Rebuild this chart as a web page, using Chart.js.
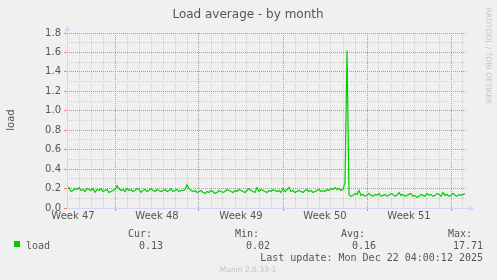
<!DOCTYPE html>
<html>
<head>
<meta charset="utf-8">
<script src="https://cdn.jsdelivr.net/npm/chart.js@4/dist/chart.umd.min.js"></script>
<style>
  html, body { margin: 0; padding: 0; background: #f0f0f0; }
  canvas { display: block; }
</style>
</head>
<body>
<canvas id="chart" width="497" height="280"></canvas>
<script>
// load samples, one every 4 hours, starting at the left edge of the graph
var load = [
  0.19,0.21,0.17,0.18,0.20,0.19,0.21,0.18,0.19,0.17,0.20,0.19,0.18,0.20,0.16,0.19,0.18,0.20,0.17,0.18,0.19,0.16,0.17,0.18,
  0.19,0.23,0.20,0.18,0.19,0.17,0.20,0.18,0.19,0.17,0.18,0.20,0.19,0.16,0.18,0.19,0.17,0.18,
  0.20,0.18,0.17,0.19,0.18,0.17,0.18,0.19,0.17,0.18,0.20,0.17,0.18,0.19,0.17,0.18,0.18,0.19,0.24,0.20,0.18,0.17,0.18,0.16,
  0.17,0.18,0.16,0.15,0.17,0.16,0.18,0.17,0.15,0.16,0.18,0.17,0.16,0.17,0.19,0.18,0.17,0.16,0.18,0.17,
  0.19,0.18,0.17,0.16,0.18,0.20,0.18,0.17,0.16,0.21,0.17,0.19,0.18,0.17,0.16,0.18,0.17,0.19,0.18,0.17,0.18,0.16,
  0.20,0.17,0.19,0.21,0.17,0.18,0.16,0.17,0.18,0.17,0.16,0.18,0.19,0.17,0.18,0.16,0.17,0.18,0.19,0.17,
  0.18,0.17,0.19,0.18,0.20,0.19,0.21,0.19,0.20,0.18,0.19,0.26,
  1.62,
  0.14,0.12,0.13,0.15,0.14,0.18,0.13,0.14,0.12,0.13,0.15,0.13,0.12,0.14,0.13,0.15,0.12,0.13,0.14,0.12,
  0.13,0.15,0.14,0.12,0.13,0.16,0.13,0.14,0.12,0.13,0.14,0.15,0.12,0.13,0.11,0.12,0.14,0.13,0.12,0.15,
  0.13,0.14,0.12,0.13,0.15,0.14,0.12,0.16,0.13,0.14,0.12,0.13,0.15,0.13,0.12,0.14,0.13,0.14,0.15
];
var sampleStep = 1 / 6;          // days between samples
var rangeDays = 400 / 12;        // visible time span in days

var weekLabels = ['Week 47', 'Week 48', 'Week 49', 'Week 50', 'Week 51'];
var weekLabelAt = [0.5, 7.5, 14.5, 21.5, 28.5];   // day offsets of label centres
var weekLines = [4, 11, 18, 25, 32];               // day offsets of week boundaries

var legendCols = ['Cur:', 'Min:', 'Avg:', 'Max:'];
var legendVals = ['0.13', '0.02', '0.16', '17.71'];
var lastUpdate = 'Last update: Mon Dec 22 04:00:12 2025';

var RED = '#ee7f7f';
var GRAY = '#cfcfcf';
var NONE = 'rgba(0,0,0,0)';
var AXIS = '#cfd6f8';

var points = load.map(function(v, i) { return { x: i * sampleStep, y: v }; });

function isMajorY(v) { return Math.round(v * 10) % 2 === 0; }

var munin = {
  id: 'munin',
  afterDraw: function(chart) {
    var c = chart.ctx, a = chart.chartArea;
    c.save();
    // axes with arrows
    c.strokeStyle = AXIS; c.fillStyle = AXIS; c.lineWidth = 1;
    c.beginPath();
    c.moveTo(a.left + 0.5, a.bottom); c.lineTo(a.left + 0.5, a.top - 3);
    c.moveTo(a.left, a.bottom + 0.5); c.lineTo(a.right + 3, a.bottom + 0.5);
    c.stroke();
    c.beginPath();
    c.moveTo(a.left + 0.5, a.top - 7); c.lineTo(a.left - 2.5, a.top - 2); c.lineTo(a.left + 3.5, a.top - 2);
    c.fill();
    c.beginPath();
    c.moveTo(a.right + 7, a.bottom + 0.5); c.lineTo(a.right + 2, a.bottom - 2.5); c.lineTo(a.right + 2, a.bottom + 3.5);
    c.fill();

    // title
    c.fillStyle = '#555';
    c.font = '12px "DejaVu Sans"';
    c.textAlign = 'center'; c.textBaseline = 'alphabetic';
    c.fillText('Load average - by month', 248, 18);

    // y axis title
    c.save();
    c.translate(14, 120); c.rotate(-Math.PI / 2);
    c.font = '10px "DejaVu Sans"';
    c.fillText('load', 0, 0);
    c.restore();

    // rrdtool credit
    c.save();
    c.translate(486, 56); c.rotate(Math.PI / 2);
    c.fillStyle = '#c4c4c4';
    c.font = '7.5px "DejaVu Sans"';
    c.fillText('RRDTOOL / TOBI OETIKER', 0, 0);
    c.restore();

    // legend
    c.fillStyle = '#00cc00';
    c.fillRect(14, 241, 6, 6);
    c.fillStyle = '#555';
    c.font = '10px "DejaVu Sans Mono"';
    c.textAlign = 'left';
    c.fillText('load', 26, 249);
    var headX = [128, 235, 341, 448];
    var valRight = [163, 270, 376, 483];
    for (var i = 0; i < legendCols.length; i++) {
      c.textAlign = 'left';
      c.fillText(legendCols[i], headX[i], 237);
      c.textAlign = 'right';
      c.fillText(legendVals[i], valRight[i], 249);
    }
    c.textAlign = 'right';
    c.fillText(lastUpdate, 483, 261);

    c.textAlign = 'center';
    c.fillStyle = '#c0c0c0';
    c.font = '7.5px "DejaVu Sans"';
    c.fillText('Munin 2.0.33-1', 248, 272);
    c.restore();
  }
};

// x grid: one line per day, red at week boundaries, label slots halfway
function xGridColor(ctx) {
  var t = ctx.tick;
  if (!t || t.kind === 'label') return NONE;
  return t.kind === 'week' ? RED : GRAY;
}

new Chart(document.getElementById('chart'), {
  type: 'line',
  data: {
    datasets: [{
      label: 'load',
      data: points,
      borderColor: '#00cc00',
      borderWidth: 1.2,
      pointRadius: 0,
      tension: 0,
      fill: false
    }]
  },
  options: {
    responsive: false,
    animation: false,
    devicePixelRatio: 1,
    layout: { padding: { left: 0, top: 33, right: 30, bottom: 0 } },
    plugins: { legend: { display: false }, tooltip: { enabled: false } },
    scales: {
      x: {
        type: 'linear',
        min: 0,
        max: rangeDays,
        afterFit: function(s) { s.height = 72; },
        afterBuildTicks: function(s) {
          var t = [];
          for (var d = 0; d <= 33; d++) {
            t.push({ value: d, kind: weekLines.indexOf(d) >= 0 ? 'week' : 'day' });
            if (weekLabelAt.indexOf(d + 0.5) >= 0) t.push({ value: d + 0.5, kind: 'label' });
          }
          s.ticks = t;
        },
        border: { display: false, dash: [1, 1] },
        grid: {
          color: xGridColor,
          tickColor: function(ctx) { return ctx.tick && ctx.tick.kind === 'week' ? RED : NONE; },
          tickLength: 3
        },
        ticks: {
          autoSkip: false,
          maxRotation: 0,
          padding: -1,
          color: '#555',
          font: { family: 'DejaVu Sans', size: 10 },
          callback: function(v) {
            var k = weekLabelAt.indexOf(v);
            return k >= 0 ? weekLabels[k] : '';
          }
        }
      },
      y: {
        min: 0,
        max: 1.8,
        afterFit: function(s) { s.width = 67; },
        border: { display: false, dash: [1, 1] },
        grid: {
          color: function(ctx) {
            return ctx.tick && isMajorY(ctx.tick.value) ? RED : GRAY;
          },
          tickColor: function(ctx) {
            return ctx.tick && isMajorY(ctx.tick.value) ? RED : NONE;
          },
          tickLength: 3
        },
        ticks: {
          stepSize: 0.1,
          autoSkip: false,
          padding: 3,
          color: '#555',
          font: { family: 'DejaVu Sans', size: 10 },
          callback: function(v) {
            return isMajorY(v) ? v.toFixed(1) : '';
          }
        }
      }
    }
  },
  plugins: [munin]
});
</script>
</body>
</html>
